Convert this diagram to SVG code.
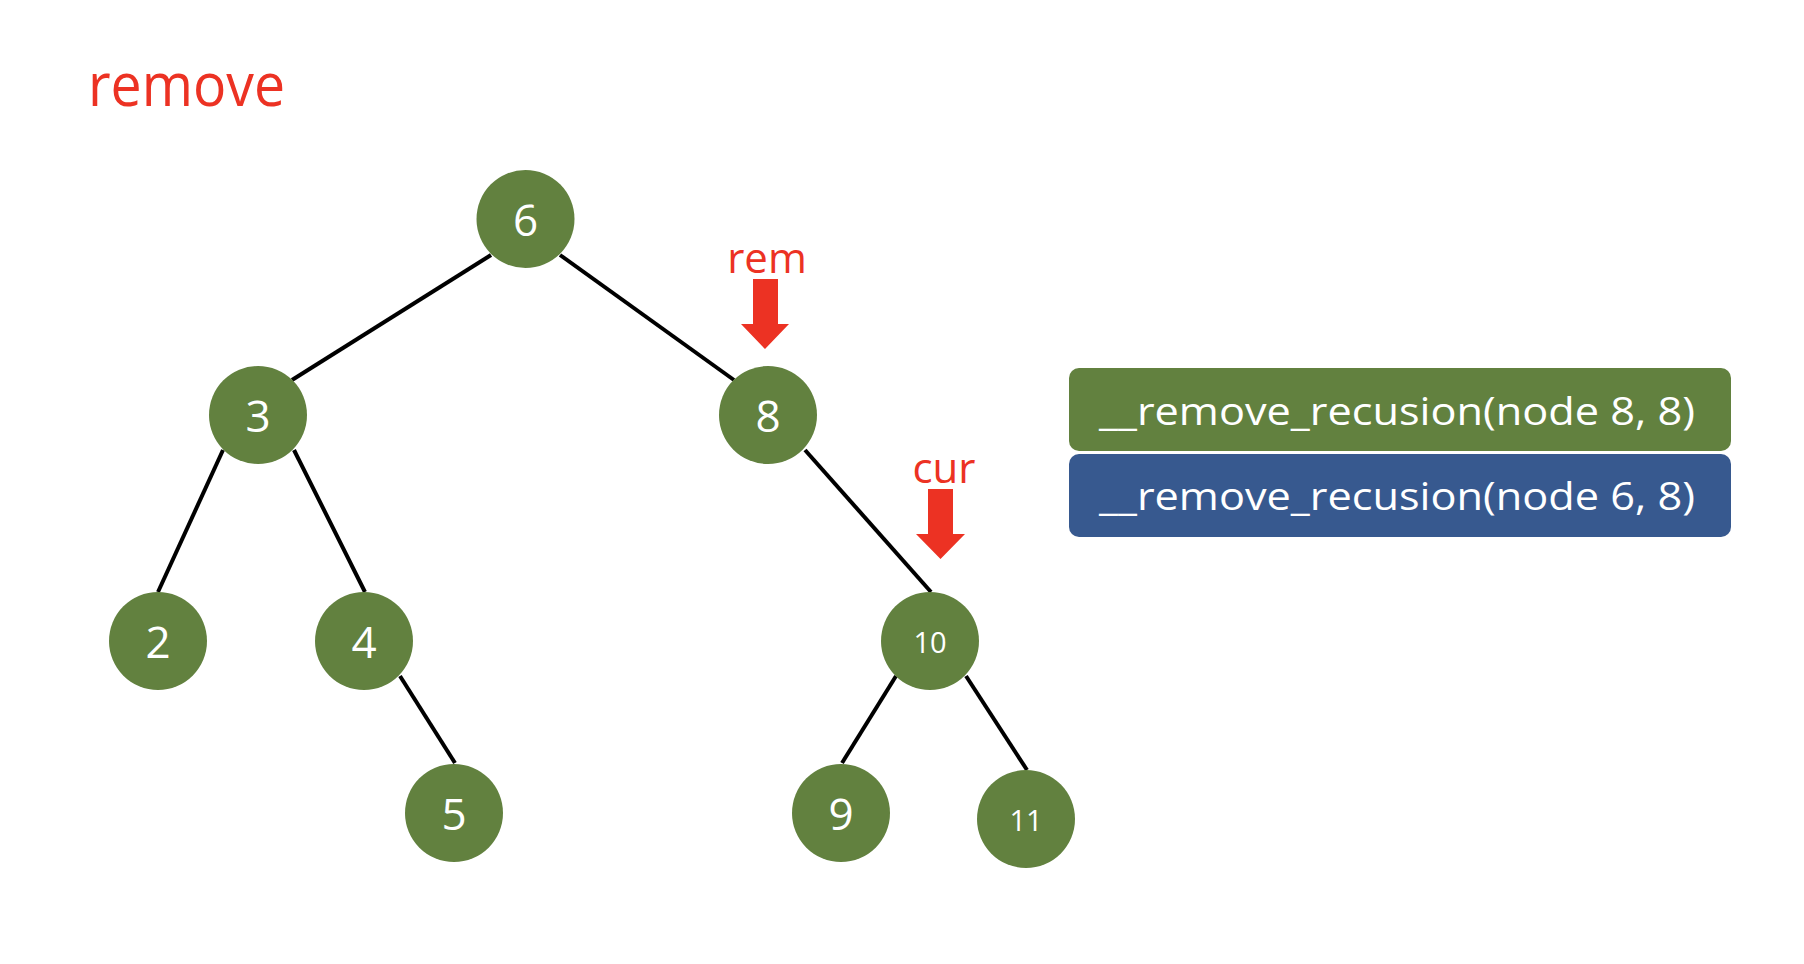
<svg xmlns="http://www.w3.org/2000/svg" width="1804" height="964" viewBox="0 0 1804 964">
  <style>
    .node circle { fill: #62813f; }
    .node text { fill: #ffffff; font-family: "Open Sans", "Noto Sans", sans-serif; font-size: 44px; text-anchor: middle; }
    .node text.small { font-size: 29px; }
    .edge { stroke: #000000; stroke-width: 4; fill: none; }
    .red { fill: #ec3223; font-family: "Open Sans", "Noto Sans", sans-serif; }
    .frame text { fill: #ffffff; font-family: "Open Sans", "Noto Sans", sans-serif; font-size: 38px; }
  </style>
  <rect width="1804" height="964" fill="#ffffff"/>

  <text class="red" x="88" y="106" font-size="60" textLength="197" lengthAdjust="spacingAndGlyphs">remove</text>

  <!-- tree edges -->
  <g id="connectors">
    <line class="edge" x1="491" y1="255" x2="292" y2="380"/>
    <line class="edge" x1="560" y1="255" x2="734" y2="380"/>
    <line class="edge" x1="223" y1="450" x2="158" y2="592"/>
    <line class="edge" x1="294" y1="450" x2="365" y2="592"/>
    <line class="edge" x1="400" y1="676" x2="455" y2="763"/>
    <line class="edge" x1="805" y1="450" x2="931" y2="592"/>
    <line class="edge" x1="896" y1="676" x2="842" y2="763"/>
    <line class="edge" x1="966" y1="676" x2="1027" y2="770"/>
  </g>

  <g id="node6" class="node"><circle cx="525.5" cy="219" r="49"/><text x="525.5" y="236">6</text></g>
  <g id="node3" class="node"><circle cx="258" cy="415" r="49"/><text x="258" y="432">3</text></g>
  <g id="node8" class="node"><circle cx="768" cy="415" r="49"/><text x="768" y="432">8</text></g>
  <g id="node2" class="node"><circle cx="158" cy="641" r="49"/><text x="158" y="658">2</text></g>
  <g id="node4" class="node"><circle cx="364" cy="641" r="49"/><text x="364" y="658">4</text></g>
  <g id="node5" class="node"><circle cx="454" cy="813" r="49"/><text x="454" y="830">5</text></g>
  <g id="node10" class="node"><circle cx="930" cy="641" r="49"/><text class="small" x="930" y="653">10</text></g>
  <g id="node9" class="node"><circle cx="841" cy="813" r="49"/><text x="841" y="830">9</text></g>
  <g id="node11" class="node"><circle cx="1026" cy="819" r="49"/><text class="small" x="1026" y="831">11</text></g>

  <!-- pointer labels -->
  <g id="rem">
    <text class="red" x="767" y="273" font-size="42" text-anchor="middle">rem</text>
    <polygon fill="#ec3223" points="753,279 778,279 778,324 789,324 765,349 741,324 753,324"/>
  </g>
  <g id="cur">
    <text class="red" x="944" y="483" font-size="42" text-anchor="middle">cur</text>
    <polygon fill="#ec3223" points="928,489 953,489 953,534 965,534 940.5,559 916,534 928,534"/>
  </g>

  <!-- call stack -->
  <g id="frame-top" class="frame">
    <rect x="1069" y="368" width="662" height="83" rx="10" fill="#62813f"/>
    <text x="1099" y="425" textLength="596" lengthAdjust="spacingAndGlyphs">__remove_recusion(node 8, 8)</text>
  </g>
  <g id="frame-bottom" class="frame">
    <rect x="1069" y="454" width="662" height="83" rx="10" fill="#37598f"/>
    <text x="1099" y="510" textLength="596" lengthAdjust="spacingAndGlyphs">__remove_recusion(node 6, 8)</text>
  </g>
</svg>
